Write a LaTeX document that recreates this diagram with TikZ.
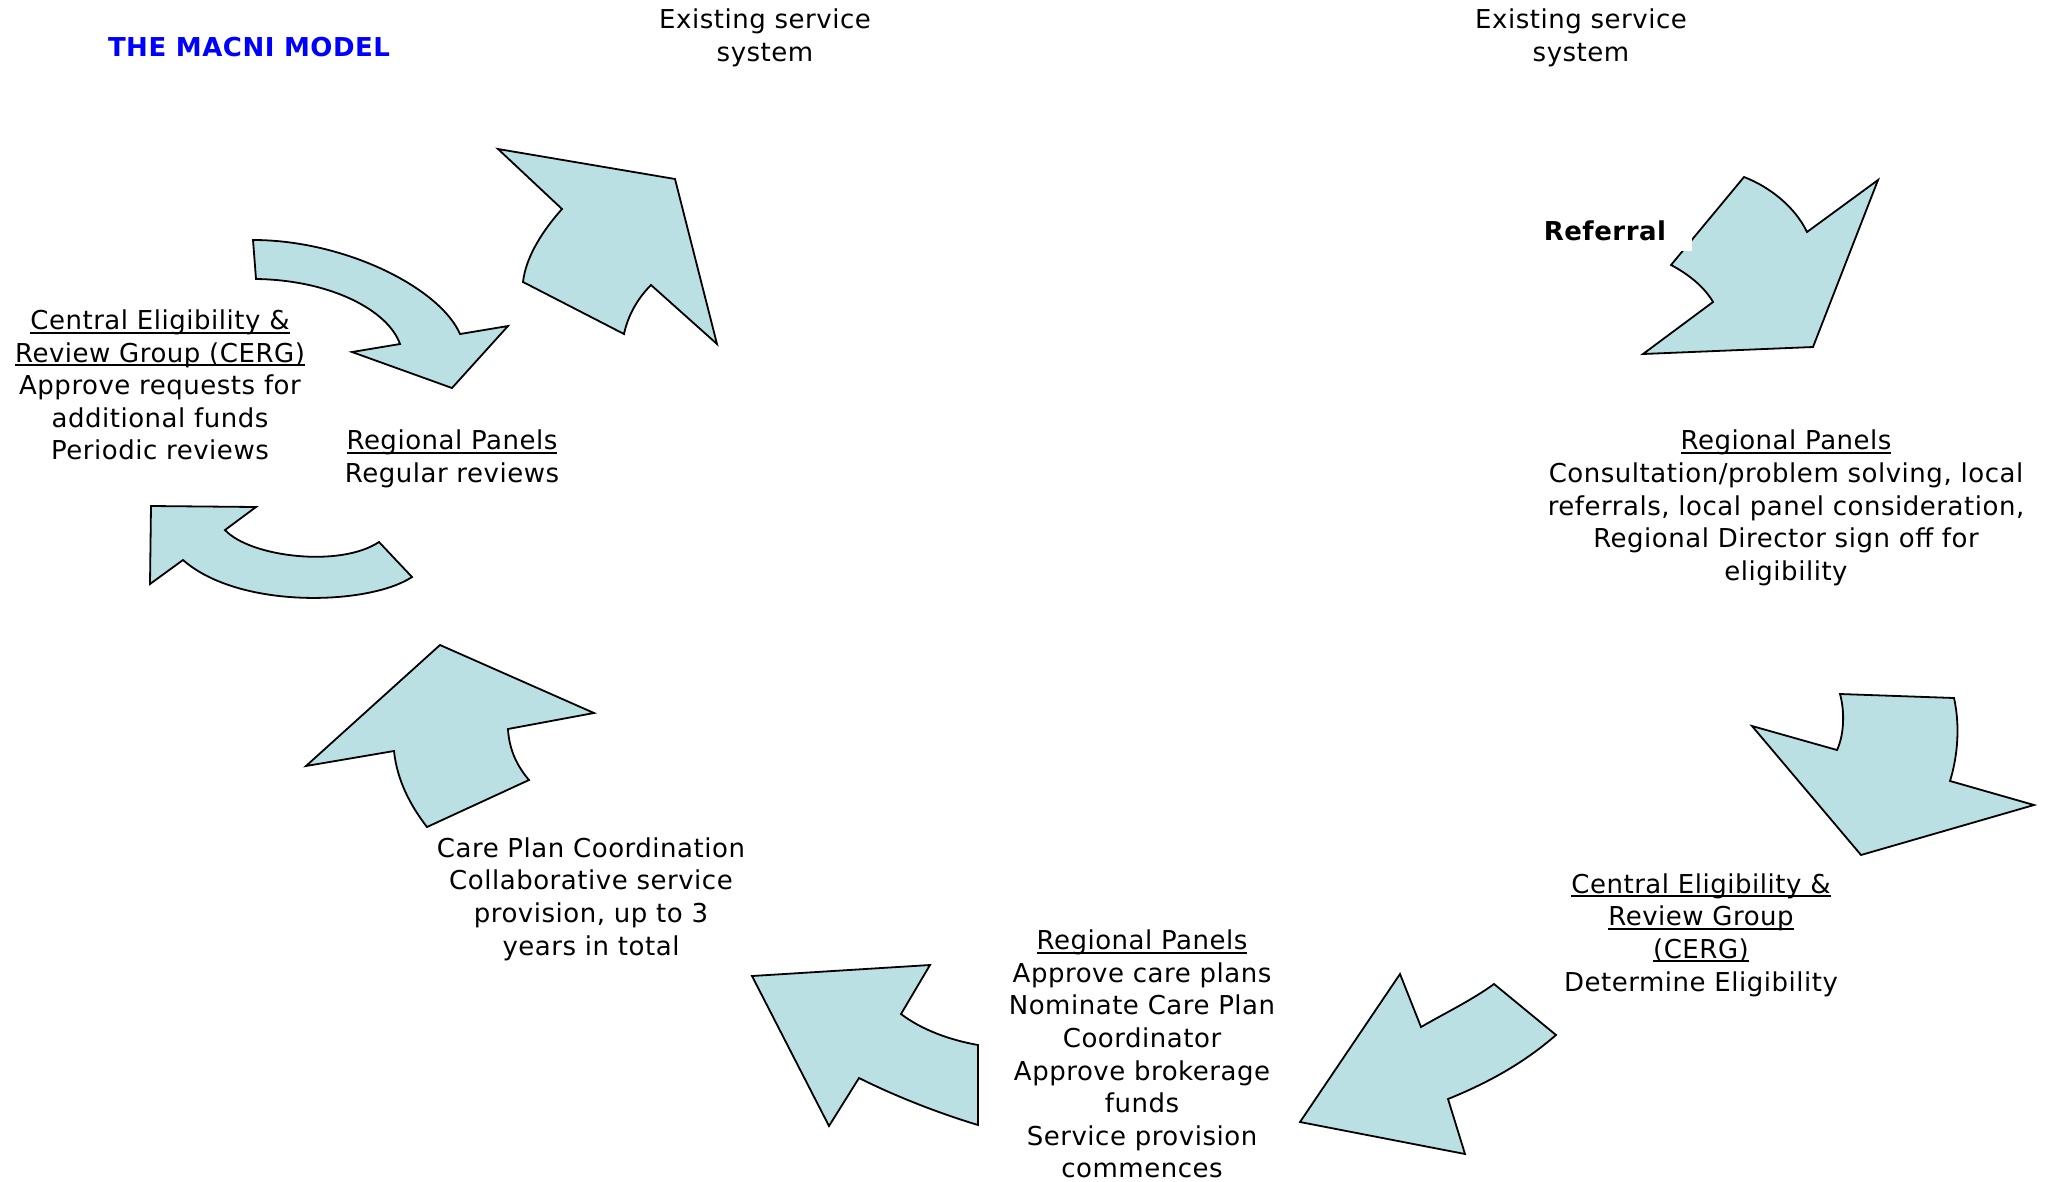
\documentclass[tikz,border=0pt]{standalone}
\usepackage{fontspec}
\setmainfont{DejaVu Sans}[LetterSpace=2.0]
\definecolor{arrowfill}{RGB}{187,224,227}
\definecolor{titleblue}{RGB}{0,0,255}
% underline sitting just below the baseline
\newcommand\ulin[1]{\leavevmode\setbox0=\hbox{#1}\rlap{\rule[-4pt]{\wd0}{2pt}}\box0}
\begin{document}
\begin{tikzpicture}[x=1pt,y=-1pt,
  arr/.style={draw=black, line width=1.8pt, fill=arrowfill, line join=miter},
  txt/.style={font=\fontsize{26}{32.6}\selectfont, align=center, inner sep=0pt}]
\useasboundingbox (0,0) rectangle (2045,1181);

% block arrows around the cycle
\draw[arr] (253,240) .. controls (345,240) and (440,288) .. (460,334) -- (508,326) -- (452,388)
  -- (352,352) -- (400,344) .. controls (388,310) and (330,280) .. (256,279) -- cycle;
\draw[arr] (498,149) -- (675,179) -- (717,344) -- (651,285) .. controls (638,298) and (628,315) .. (624,334)
  -- (523,282) .. controls (526,255) and (545,228) .. (562,209) -- cycle;
\draw[arr] (1744,177) .. controls (1770,187) and (1795,207) .. (1807,232) -- (1878,180) -- (1813,347)
  -- (1643,354) -- (1713,302) .. controls (1705,288) and (1690,275) .. (1671,265) -- cycle;
\draw[arr] (1840,694) -- (1954,698) .. controls (1960,725) and (1958,755) .. (1950,781) -- (2034,805)
  -- (1861,855) -- (1752,726) -- (1837,750) .. controls (1844,735) and (1845,712) .. (1840,694) -- cycle;
\draw[arr] (1400,974) -- (1421,1027) .. controls (1447,1012) and (1472,1000) .. (1494,984) -- (1556,1035)
  .. controls (1525,1062) and (1490,1082) .. (1448,1099) -- (1465,1154) -- (1300,1122) -- cycle;
\draw[arr] (752,976) -- (930,965) -- (901,1014) .. controls (922,1030) and (950,1040) .. (978,1045)
  -- (978,1125) .. controls (935,1112) and (893,1095) .. (859,1078) -- (829,1126) -- cycle;
\draw[arr] (440,645) -- (594,713) -- (508,729) .. controls (509,748) and (516,765) .. (529,780)
  -- (427,827) .. controls (410,805) and (397,780) .. (394,751) -- (306,766) -- cycle;
\draw[arr] (151,506) -- (256,507) -- (225,530) .. controls (250,557) and (340,568) .. (379,542)
  -- (412,577) .. controls (370,605) and (240,610) .. (183,560) -- (150,584) -- cycle;

% labels
\node[txt, text=titleblue, font=\fontsize{26}{32.6}\selectfont\bfseries] (title) at (249,47) {THE MACNI MODEL};
\node[txt] (exist1) at (765,38) {Existing service\\system};
\node[txt] (exist2) at (1581,38) {Existing service\\system};
\node[txt, fill=white, minimum height=40pt, text width=148pt, align=left, anchor=south east]
  (referral) at (1692,251) {\bfseries Referral};
\node[txt] (rpright) at (1786,508) {\ulin{Regional Panels}\\Consultation/problem solving, local\\referrals, local panel consideration,\\Regional Director sign off for\\eligibility};
\node[txt] (cergright) at (1701,935) {\ulin{Central Eligibility \&}\\\ulin{Review Group}\\\ulin{(CERG)}\\Determine Eligibility};
\node[txt] (rpbottom) at (1142,1054) {\ulin{Regional Panels}\\Approve care plans\\Nominate Care Plan\\Coordinator\\Approve brokerage\\funds\\Service provision\\commences};
\node[txt] (careplan) at (591,899) {Care Plan Coordination\\Collaborative service\\provision, up to 3\\years in total};
\node[txt] (cergleft) at (160,385) {\ulin{Central Eligibility \&}\\\ulin{Review Group (CERG)}\\Approve requests for\\additional funds\\Periodic reviews};
\node[txt] (rpleft) at (452,459) {\ulin{Regional Panels}\\Regular reviews};
\end{tikzpicture}
\end{document}
